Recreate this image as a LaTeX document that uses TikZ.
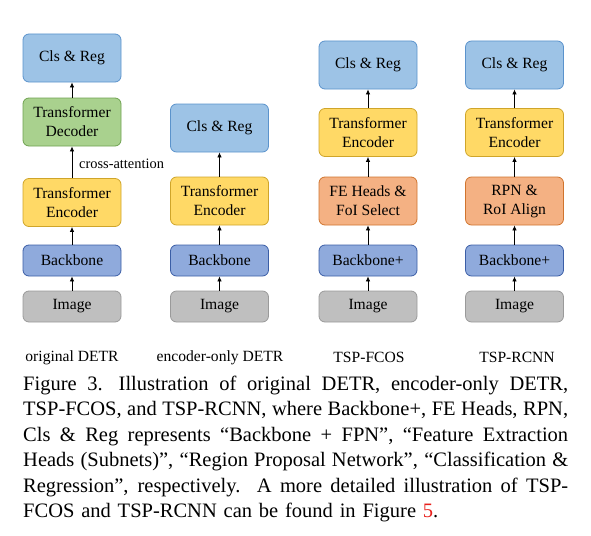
\documentclass[tikz,border=0pt]{standalone}
\usepackage{fontspec}
\setmainfont{Liberation Serif}
\usetikzlibrary{arrows.meta}
\definecolor{clsfill}{HTML}{9DC3E6}
\definecolor{clsdraw}{HTML}{5B93CC}
\definecolor{decfill}{HTML}{A9D18E}
\definecolor{decdraw}{HTML}{6FA250}
\definecolor{encfill}{HTML}{FFD966}
\definecolor{encdraw}{HTML}{CFA52A}
\definecolor{bbfill}{HTML}{8FAADC}
\definecolor{bbdraw}{HTML}{3B5EA6}
\definecolor{imgfill}{HTML}{BFBFBF}
\definecolor{imgdraw}{HTML}{9A9A9A}
\definecolor{fefill}{HTML}{F4B183}
\definecolor{fedraw}{HTML}{D0742E}
\definecolor{linkred}{HTML}{E8201C}
\newcommand{\capline}[1]{\hbox to 545pt{\spaceskip=0.25em plus 1em minus 0.08em\xspaceskip=0.5em plus 1em minus 0.08em #1}}
\tikzset{
  box/.style={rectangle, rounded corners=6pt, line width=0.8pt, minimum width=98pt,
    align=center, inner sep=0pt, font=\rmfamily\fontsize{15.6}{19}\selectfont},
  bigbox/.style={box, minimum height=48pt},
  smallbox/.style={box, minimum height=31pt},
  clsbox/.style={bigbox, fill=clsfill, draw=clsdraw},
  decbox/.style={bigbox, fill=decfill, draw=decdraw},
  encbox/.style={bigbox, fill=encfill, draw=encdraw},
  febox/.style={bigbox, fill=fefill, draw=fedraw},
  bbbox/.style={smallbox, fill=bbfill, draw=bbdraw},
  imgbox/.style={smallbox, fill=imgfill, draw=imgdraw},
  flow/.style={-{Latex[length=5pt,width=4.5pt]}, line width=0.8pt, black},
  lab/.style={font=\rmfamily\fontsize{15.6}{18}\selectfont, inner sep=0pt},
  xlab/.style={font=\rmfamily\fontsize{14.4}{17}\selectfont, inner sep=0pt}
}
\begin{document}
\begin{tikzpicture}[x=1pt,y=-1pt]
\useasboundingbox (0,0) rectangle (591,535);
% column 1: original DETR
\node[clsbox] (c1) at (72,58) {Cls \& Reg};
\node[decbox] (d1) at (72,122) {Transformer\\Decoder};
\node[encbox] (e1) at (72,202.5) {Transformer\\Encoder};
\node[bbbox] (b1) at (72,260.5) {Backbone};
\node[imgbox] (i1) at (72,306.5) {Image};
\draw[flow] (i1) -- (b1);
\draw[flow] (b1) -- (e1);
\draw[flow] (e1) -- (d1);
\draw[flow] (d1) -- (c1);
\node[xlab, anchor=west] (ca) at (79,164) {cross-attention};
% column 2: encoder-only DETR
\node[clsbox] (c2) at (219.5,128) {Cls \& Reg};
\node[encbox] (e2) at (219.5,201) {Transformer\\Encoder};
\node[bbbox] (b2) at (219.5,260.5) {Backbone};
\node[imgbox] (i2) at (219.5,306.5) {Image};
\draw[flow] (i2) -- (b2);
\draw[flow] (b2) -- (e2);
\draw[flow] (e2) -- (c2);
% column 3: TSP-FCOS
\node[clsbox] (c3) at (368,65) {Cls \& Reg};
\node[encbox] (e3) at (368,132.5) {Transformer\\Encoder};
\node[febox] (f3) at (368,201) {FE Heads \&\\FoI Select};
\node[bbbox] (b3) at (368,260.5) {Backbone+};
\node[imgbox] (i3) at (368,306.5) {Image};
\draw[flow] (i3) -- (b3);
\draw[flow] (b3) -- (f3);
\draw[flow] (f3) -- (e3);
\draw[flow] (e3) -- (c3);
% column 4: TSP-RCNN
\node[clsbox] (c4) at (514.5,65) {Cls \& Reg};
\node[encbox] (e4) at (514.5,132.5) {Transformer\\Encoder};
\node[febox] (f4) at (514.5,201) {RPN \&\\RoI Align};
\node[bbbox] (b4) at (514.5,260.5) {Backbone+};
\node[imgbox] (i4) at (514.5,306.5) {Image};
\draw[flow] (i4) -- (b4);
\draw[flow] (b4) -- (f4);
\draw[flow] (f4) -- (e4);
\draw[flow] (e4) -- (c4);
% labels
\node[lab] (l1) at (72,357.5) {original DETR};
\node[lab] (l2) at (220,357.5) {encoder-only DETR};
\node[lab] (l3) at (369,357.5) {TSP-FCOS};
\node[lab] (l4) at (517,357.5) {TSP-RCNN};
% caption
\node[anchor=north west, inner sep=0pt, text width=545pt, align=left,
  font=\rmfamily\fontsize{20.5}{25.4}\selectfont] (cap) at (23,375.8)
{\capline{Figure 3. Illustration of original DETR, encoder-only DETR,}
\capline{TSP-FCOS, and TSP-RCNN, where Backbone+, FE Heads, RPN,}
\capline{Cls~\&~Reg represents “Backbone + FPN”, “Feature Extraction}
\capline{Heads (Subnets)”, “Region Proposal Network”, “Classification \&}
\capline{Regression”, respectively.\ \ A more detailed illustration of TSP-}
\hbox{FCOS and TSP-RCNN can be found in Figure \textcolor{linkred}{5}.}};
\end{tikzpicture}
\end{document}
